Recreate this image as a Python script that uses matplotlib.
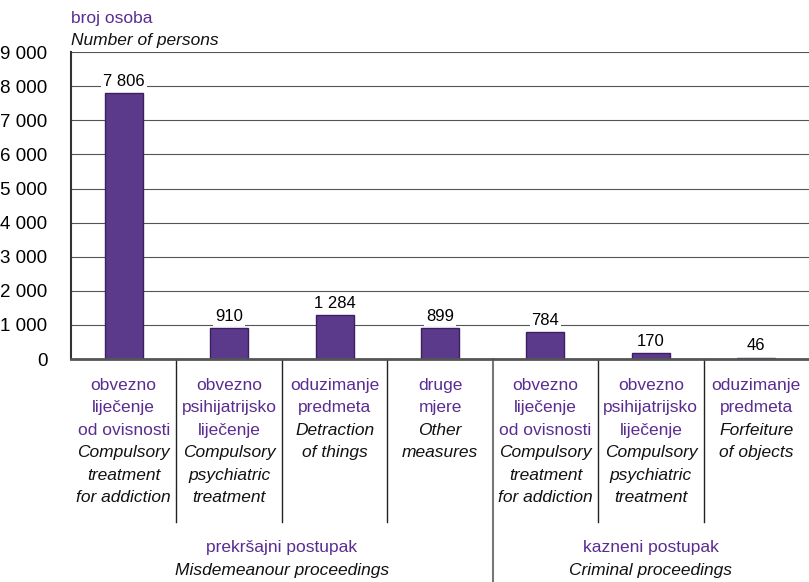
import matplotlib.pyplot as plt
from matplotlib import font_manager
from matplotlib.transforms import blended_transform_factory

values = [7806, 910, 1284, 899, 784, 170, 46]
labels_hr = [
    ["obvezno", "liječenje", "od ovisnosti"],
    ["obvezno", "psihijatrijsko", "liječenje"],
    ["oduzimanje", "predmeta"],
    ["druge", "mjere"],
    ["obvezno", "liječenje", "od ovisnosti"],
    ["obvezno", "psihijatrijsko", "liječenje"],
    ["oduzimanje", "predmeta"],
]
labels_en = [
    ["Compulsory", "treatment", "for addiction"],
    ["Compulsory", "psychiatric", "treatment"],
    ["Detraction", "of things"],
    ["Other", "measures"],
    ["Compulsory", "treatment", "for addiction"],
    ["Compulsory", "psychiatric", "treatment"],
    ["Forfeiture", "of objects"],
]
groups_hr = ["prekršajni postupak", "kazneni postupak"]
groups_en = ["Misdemeanour proceedings", "Criminal proceedings"]
group_sizes = [4, 3]
yticks = list(range(0, 9001, 1000))

PURPLE = "#5a2d91"
BAR = "#5b3a8c"

names = {f.name for f in font_manager.fontManager.ttflist}
family = "Liberation Sans Narrow" if "Liberation Sans Narrow" in names else "Liberation Sans"
plt.rcParams["font.family"] = [family, "DejaVu Sans"]
FS = 12.5

fig = plt.figure(figsize=(8.09, 5.82), dpi=100)
ax = fig.add_axes([0.0878, 0.383, 0.9122, 0.5275])

x = list(range(len(values)))
ax.bar(x, values, width=0.36, color=BAR, edgecolor="#3a2060", linewidth=1, zorder=3)
ax.set_xlim(-0.5, len(values) - 0.5)
ax.set_ylim(0, 9000)
ax.set_yticks(yticks)
ax.set_yticklabels([f"{v:,}".replace(",", " ") for v in yticks], fontsize=13.5)
ax.tick_params(axis="y", length=0, pad=17)
ax.set_xticks([])
ax.grid(axis="y", color="#555555", linewidth=0.8, zorder=0)
for s in ["top", "right"]:
    ax.spines[s].set_visible(False)
ax.spines["left"].set_color("#333333")
ax.spines["left"].set_linewidth(1.5)
ax.spines["bottom"].set_color("#555555")
ax.spines["bottom"].set_linewidth(2)
ax.spines["bottom"].set_zorder(4)

for xi, v in zip(x, values):
    ax.annotate(f"{v:,}".replace(",", " "), xy=(xi, v), xytext=(0, 3),
                textcoords="offset points", ha="center", va="bottom", fontsize=12,
                bbox=dict(facecolor="white", edgecolor="none", pad=1.5), zorder=5)

# category labels
for xi in x:
    lines = [(t, PURPLE, "normal") for t in labels_hr[xi]] + \
            [(t, "#111111", "italic") for t in labels_en[xi]]
    for k, (t, c, st) in enumerate(lines):
        ax.annotate(t, xy=(xi, 0), xycoords=("data", "axes fraction"),
                    xytext=(0, -18.7 - k * 16.2), textcoords="offset points",
                    ha="center", va="center", fontsize=FS, color=c, style=st,
                    annotation_clip=False)

# separators
tr = blended_transform_factory(ax.transData, fig.transFigure)
bottom = 0.383
start = 0
for gi, n in enumerate(group_sizes):
    for j in range(start, start + n - 1):
        ax.plot([j + 0.5, j + 0.5], [bottom, 1 - 522 / 582], transform=tr,
                color="#222222", linewidth=1, clip_on=False)
    if gi < len(group_sizes) - 1:
        xs = start + n - 0.5
        ax.plot([xs, xs], [bottom, 0], transform=tr, color="#777777",
                linewidth=1.5, clip_on=False)
    center = start + (n - 1) / 2
    ax.annotate(groups_hr[gi], xy=(center, 0), xycoords=("data", "axes fraction"),
                xytext=(0, -136), textcoords="offset points", ha="center", va="center",
                fontsize=FS, color=PURPLE, annotation_clip=False)
    ax.annotate(groups_en[gi], xy=(center, 0), xycoords=("data", "axes fraction"),
                xytext=(0, -152), textcoords="offset points", ha="center", va="center",
                fontsize=FS, color="#111111", style="italic", annotation_clip=False)
    start += n

fig.text(71 / 809, 1 - 18 / 582, "broj osoba", color=PURPLE, fontsize=FS,
         ha="left", va="center")
fig.text(71 / 809, 1 - 40 / 582, "Number of persons", color="#111111", fontsize=FS,
         style="italic", ha="left", va="center")

fig.savefig("out.png", dpi=100)
